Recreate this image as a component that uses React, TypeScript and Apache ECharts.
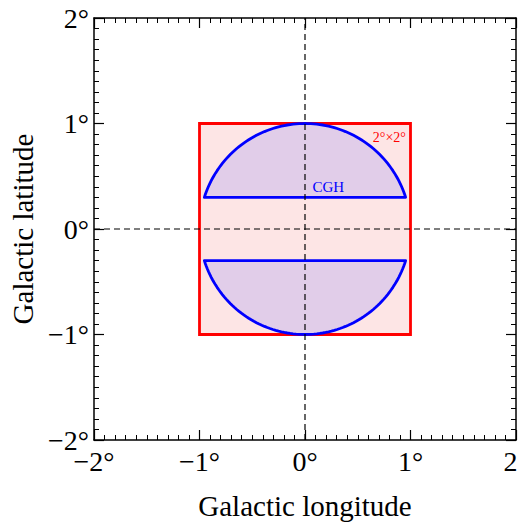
import React, { useEffect, useRef } from "react";
import * as echarts from "echarts";

const lonRange = [-2, 2];
const latRange = [-2, 2];
const tickValues = [-2, -1, 0, 1, 2];
const boxLon = [-1, 1];
const boxLat = [-1, 1];
const cghCenter = [0, 0];
const cghRadius = [1];
const cghLatCut = [0.3];
const boxLabel = { text: "2°×2°", pos: [0.8, 0.87] };
const cghLabel = { text: "CGH", pos: [0.22, 0.4] };

const FONT = '"Liberation Serif", "DejaVu Serif", serif';

function fmt(v: number) {
  if (v < 0) return "\u2212" + Math.abs(v) + "°";
  return v + "°";
}

function capPoints(sign: number) {
  const r = cghRadius[0];
  const cut = cghLatCut[0];
  const a0 = Math.asin(cut / r);
  const pts: number[][] = [];
  const n = 90;
  for (let i = 0; i <= n; i++) {
    const t = a0 + ((Math.PI - 2 * a0) * i) / n;
    pts.push([cghCenter[0] + r * Math.cos(t), cghCenter[1] + sign * r * Math.sin(t)]);
  }
  return pts;
}

export default function App() {
  const ref = useRef<HTMLDivElement>(null);
  useEffect(() => {
    if (!ref.current) return;
    const chart = echarts.init(ref.current, undefined, { renderer: "svg" });
    const axisCommon = {
      type: "value",
      interval: 1,
      axisLine: { show: true, onZero: false, lineStyle: { color: "#000", width: 1.5 } },
      axisTick: { show: true, inside: true, length: 10, lineStyle: { color: "#000", width: 1.2 } },
      minorTick: { show: true, splitNumber: 10, length: 5, lineStyle: { color: "#000", width: 1 } },
      splitLine: { show: false },
    };
    const xMin = lonRange[0], xMax = lonRange[1];
    const yMin = latRange[0], yMax = latRange[1];
    const option: any = {
      animation: false,
      grid: {
        left: 86,
        right: 10,
        top: 10,
        bottom: 85,
        containLabel: false,
        outerBoundsMode: "none",
      },
      xAxis: [
        {
          ...axisCommon,
          min: xMin,
          max: xMax,
          position: "bottom",
          name: "Galactic longitude",
          nameLocation: "middle",
          nameGap: 51,
          nameTextStyle: { fontFamily: FONT, fontSize: 29, color: "#000" },
          axisLabel: {
            fontFamily: FONT,
            fontSize: 28,
            color: "#000",
            margin: 7,
            formatter: (v: number) => (tickValues.includes(v) ? fmt(v) : ""),
          },
        },
        {
          ...axisCommon,
          min: xMin,
          max: xMax,
          position: "top",
          axisLabel: { show: false },
        },
      ],
      yAxis: [
        {
          ...axisCommon,
          min: yMin,
          max: yMax,
          position: "left",
          name: "Galactic latitude",
          nameLocation: "middle",
          nameGap: 56,
          nameTextStyle: { fontFamily: FONT, fontSize: 29, color: "#000" },
          axisLabel: {
            fontFamily: FONT,
            fontSize: 28,
            color: "#000",
            margin: 5,
            formatter: (v: number) => (tickValues.includes(v) ? fmt(v) : ""),
          },
        },
        {
          ...axisCommon,
          min: yMin,
          max: yMax,
          position: "right",
          axisLabel: { show: false },
        },
      ],
      series: [
        {
          type: "custom",
          coordinateSystem: "cartesian2d",
          data: [[boxLon[0], boxLat[0], boxLon[1], boxLat[1]]],
          z: 2,
          renderItem: (params: any, api: any) => {
            const p0 = api.coord([boxLon[0], boxLat[1]]);
            const p1 = api.coord([boxLon[1], boxLat[0]]);
            const lp = api.coord(boxLabel.pos);
            return {
              type: "group",
              children: [
                {
                  type: "rect",
                  shape: { x: p0[0], y: p0[1], width: p1[0] - p0[0], height: p1[1] - p0[1] },
                  style: { fill: "#fde5e5", stroke: "#ff0000", lineWidth: 2.8 },
                },
                {
                  type: "text",
                  x: lp[0],
                  y: lp[1],
                  style: {
                    text: boxLabel.text,
                    fill: "#ff0000",
                    font: `14px ${FONT}`,
                    align: "center",
                    verticalAlign: "middle",
                  },
                },
              ],
            };
          },
        },
        {
          type: "custom",
          coordinateSystem: "cartesian2d",
          data: [[cghCenter[0], cghCenter[1], cghRadius[0], cghLatCut[0]]],
          z: 3,
          renderItem: (params: any, api: any) => {
            const top = capPoints(1).map((p) => api.coord(p));
            const bot = capPoints(-1).map((p) => api.coord(p));
            const lp = api.coord(cghLabel.pos);
            const st = { fill: "#e1cde9", stroke: "#0000ff", lineWidth: 2.8, lineJoin: "round" };
            return {
              type: "group",
              children: [
                { type: "polygon", shape: { points: top }, style: st },
                { type: "polygon", shape: { points: bot }, style: st },
                {
                  type: "text",
                  x: lp[0],
                  y: lp[1],
                  style: {
                    text: cghLabel.text,
                    fill: "#0000ff",
                    font: `15px ${FONT}`,
                    align: "center",
                    verticalAlign: "middle",
                  },
                },
              ],
            };
          },
        },
        {
          type: "line",
          data: [[0, yMin], [0, yMax]],
          symbol: "none",
          z: 4,
          lineStyle: { color: "#000", width: 1.2, type: [6, 4] },
        },
        {
          type: "line",
          data: [[xMin, 0], [xMax, 0]],
          symbol: "none",
          z: 4,
          lineStyle: { color: "#000", width: 1.2, type: [6, 4] },
        },
      ],
    };
    chart.setOption(option);
    return () => chart.dispose();
  }, []);
  return <div ref={ref} style={{ width: 518, height: 517 }} />;
}
